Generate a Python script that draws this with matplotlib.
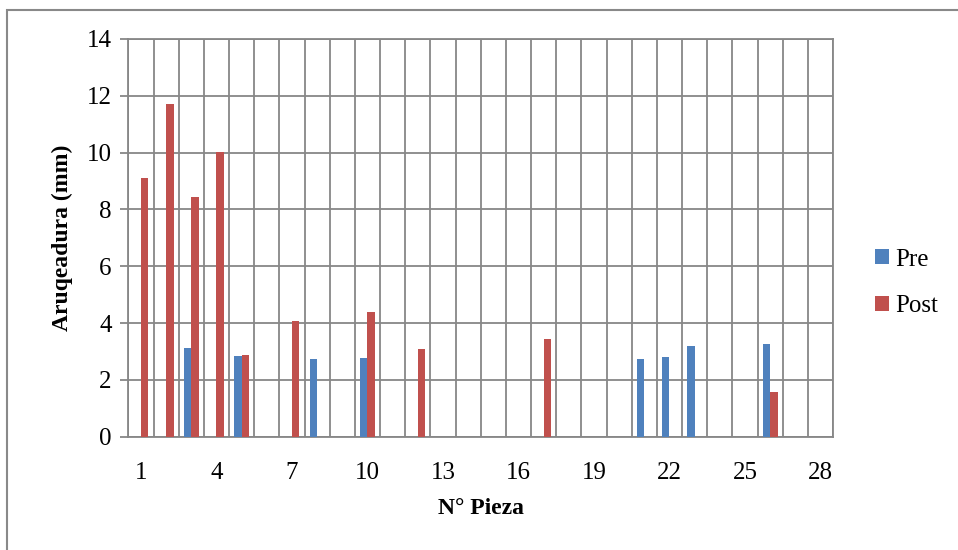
import numpy as np
import matplotlib
matplotlib.use("Agg")
import matplotlib.pyplot as plt
from matplotlib.patches import Rectangle

nan = np.nan
piezas = list(range(1, 29))
pre = [nan, nan, 3.11, nan, 2.83, nan, nan, 2.74, nan, 2.77,
       nan, nan, nan, nan, nan, nan, nan, nan, nan, nan,
       2.74, 2.79, 3.20, nan, nan, 3.26, nan, nan]
post = [9.12, 11.71, 8.43, 10.01, 2.87, nan, 4.07, nan, nan, 4.39,
        nan, 3.09, nan, nan, nan, nan, 3.44, nan, nan, nan,
        nan, nan, nan, nan, nan, 1.57, nan, nan]
tick_labels = [str(p) for p in piezas[::3]]

plt.rcParams['font.family'] = ['Liberation Serif', 'DejaVu Serif']
grid_col = "#878787"

fig = plt.figure(figsize=(9.58, 5.5), dpi=100)
ax = fig.add_axes([128.4 / 958, 1 - 436.7 / 550, (833 - 128.4) / 958, (436.7 - 39) / 550])

x = np.array(piezas)
w = 0.295
ax.bar(x - w / 2, pre, w, color="#4F81BD", label="Pre", zorder=3)
ax.bar(x + w / 2, post, w, color="#C0504D", label="Post", zorder=3)

ax.set_xlim(0.5, 28.5)
ax.set_ylim(0, 14)
ax.set_yticks(range(0, 15, 2))
ax.set_xticks(piezas[::3])
ax.set_xticklabels(tick_labels)
# category boundaries -> vertical gridlines
ax.set_xticks(np.arange(0.5, 29, 1), minor=True)
ax.grid(True, which="minor", axis="x", color=grid_col, lw=1.3, zorder=1)
ax.grid(True, which="major", axis="y", color=grid_col, lw=1.3, zorder=1)
ax.grid(False, which="major", axis="x")
ax.tick_params(axis="x", which="both", length=0, labelsize=18, pad=18)
ax.tick_params(axis="y", length=6, width=1.3, color=grid_col, labelsize=18, pad=6)
for s in ax.spines.values():
    s.set_color(grid_col)
    s.set_linewidth(1.3)

ax.set_ylabel("Aruqeadura (mm)", fontsize=17, fontweight="bold", labelpad=10)
ax.set_xlabel("N° Pieza", fontsize=17, fontweight="bold", labelpad=10)

fig.legend(loc="center left", bbox_to_anchor=(862 / 958, 1 - 283 / 550), frameon=False,
           fontsize=18, handlelength=0.56, handleheight=0.56, handletextpad=0.25,
           labelspacing=1.0, borderpad=0)

# outer chart border (only top/left visible in crop)
fig.patches.append(Rectangle((7 / 958, -0.05), 1.2, 1 - 9.5 / 550 + 0.05,
                             transform=fig.transFigure, fill=False,
                             edgecolor="#898989", lw=1.5))

fig.savefig("out.png", dpi=100)
